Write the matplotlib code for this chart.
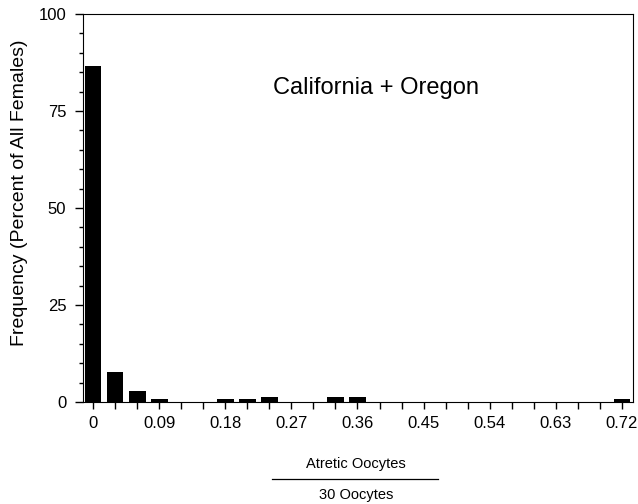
import numpy as np
import matplotlib
matplotlib.use("Agg")
import matplotlib.pyplot as plt
import matplotlib.ticker as tck
from matplotlib.lines import Line2D

plt.rcParams['font.family'] = ['Liberation Sans', 'DejaVu Sans']

# Bin centres (ratio of atretic oocytes to 30 oocytes) and frequencies (%)
bins = np.round(np.arange(0, 0.7201, 0.03), 2)
freq = [86.5, 7.8, 2.8, 0.8, 0, 0, 0.8, 0.8, 1.2, 0, 0, 1.2, 1.2,
        0, 0, 0, 0, 0, 0, 0, 0, 0, 0, 0, 0.9]
xlabels = ['0', '0.09', '0.18', '0.27', '0.36', '0.45', '0.54', '0.63', '0.72']

fig = plt.figure(figsize=(6.38, 5.04), dpi=100)
ax = fig.add_axes([83/638, 102/504, 550/638, 388/504])

ax.bar(bins, freq, width=0.023, color='black')

ax.set_xlim(-0.0136, 0.735)
ax.set_ylim(0, 100)
# a tick on every bin, a label on every third one
ticklabels = ['' for b in bins]
for i in range(0, len(bins), 3):
    ticklabels[i] = xlabels[i // 3]
ax.set_xticks(bins)
ax.set_xticklabels(ticklabels, fontsize=12)
ax.tick_params(axis='x', length=5, width=1, direction='out', pad=5)

ax.yaxis.set_major_locator(tck.MultipleLocator(25))
ax.yaxis.set_minor_locator(tck.MultipleLocator(5))
ax.tick_params(axis='y', which='major', length=6, width=1, labelsize=12, pad=6)
ax.tick_params(axis='y', which='minor', length=3, width=1)
ax.set_ylabel('Frequency (Percent of All Females)', fontsize=14)
ax.yaxis.set_label_coords(-0.1, 0.54)

ax.text(0.385, 81, 'California + Oregon', fontsize=17, ha='center', va='center')

# fraction-style x label
fig.text(356/638, 1 - 464/504, 'Atretic Oocytes', fontsize=10.5, ha='center', va='center')
fig.add_artist(Line2D([272/638, 438/638], [1 - 479/504, 1 - 479/504], color='black', lw=0.9))
fig.text(356/638, 1 - 495/504, '30 Oocytes', fontsize=10.5, ha='center', va='center')

plt.savefig('out.png', dpi=100)
